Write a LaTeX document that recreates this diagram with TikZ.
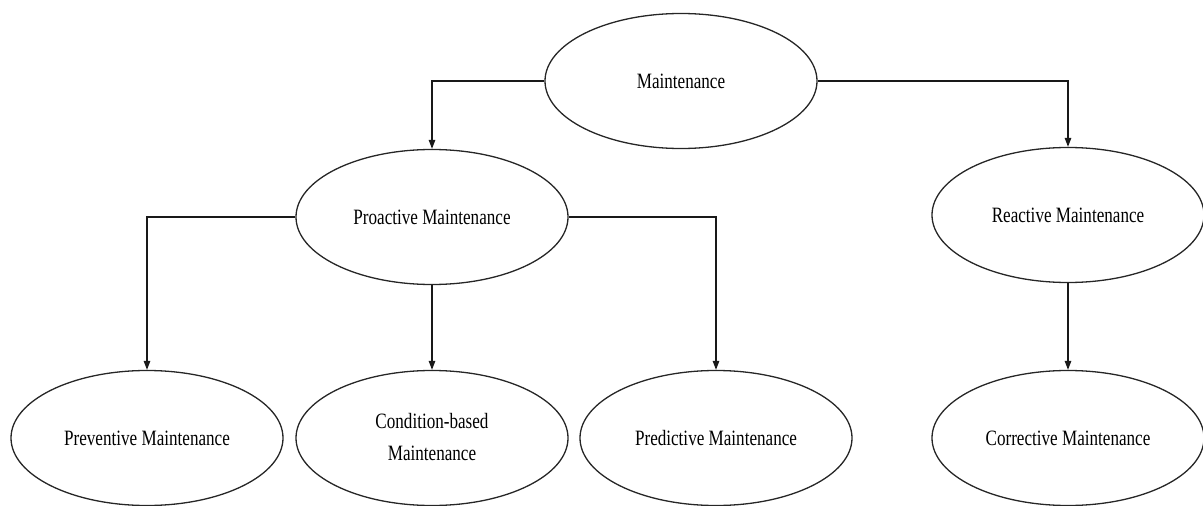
\documentclass[tikz,border=0pt]{standalone}
\usepackage{fontspec}
\setmainfont{Liberation Serif}
\usetikzlibrary{shapes.geometric,arrows.meta}
\begin{document}
\begin{tikzpicture}[x=1pt,y=-1pt,
  oval/.style={draw=black!85, line width=1.3pt, ellipse, inner sep=0pt,
    minimum width=272pt, minimum height=135pt, align=center,
    font=\fontsize{17.1}{25.5}\selectfont},
  link/.style={draw=black!90, line width=1.2pt,
    -{Triangle[length=9pt,width=6.5pt]}}]
  \useasboundingbox (0,0) rectangle (1203,506);
  % top level
  \node[oval] (main) at (681,81) {\scalebox{1}[1.28]{Maintenance}};
  % second level
  \node[oval] (pro) at (432,217) {\scalebox{1}[1.28]{Proactive Maintenance}};
  \node[oval] (rea) at (1068,215) {\scalebox{1}[1.28]{Reactive Maintenance}};
  % third level
  \node[oval] (prev) at (147,438) {\scalebox{1}[1.28]{Preventive Maintenance}};
  \node[oval] (cond) at (432,438) {\scalebox{1}[1.28]{\begin{tabular}{@{}c@{}}Condition-based\\Maintenance\end{tabular}}};
  \node[oval] (pred) at (716,438) {\scalebox{1}[1.28]{Predictive Maintenance}};
  \node[oval] (corr) at (1068,438) {\scalebox{1}[1.28]{Corrective Maintenance}};
  % connectors
  \draw[link] (main.west) -| (pro.north);
  \draw[link] (main.east) -| (rea.north);
  \draw[link] (pro.west) -| (prev.north);
  \draw[link] (pro.south) -- (cond.north);
  \draw[link] (pro.east) -| (pred.north);
  \draw[link] (rea.south) -- (corr.north);
\end{tikzpicture}
\end{document}
